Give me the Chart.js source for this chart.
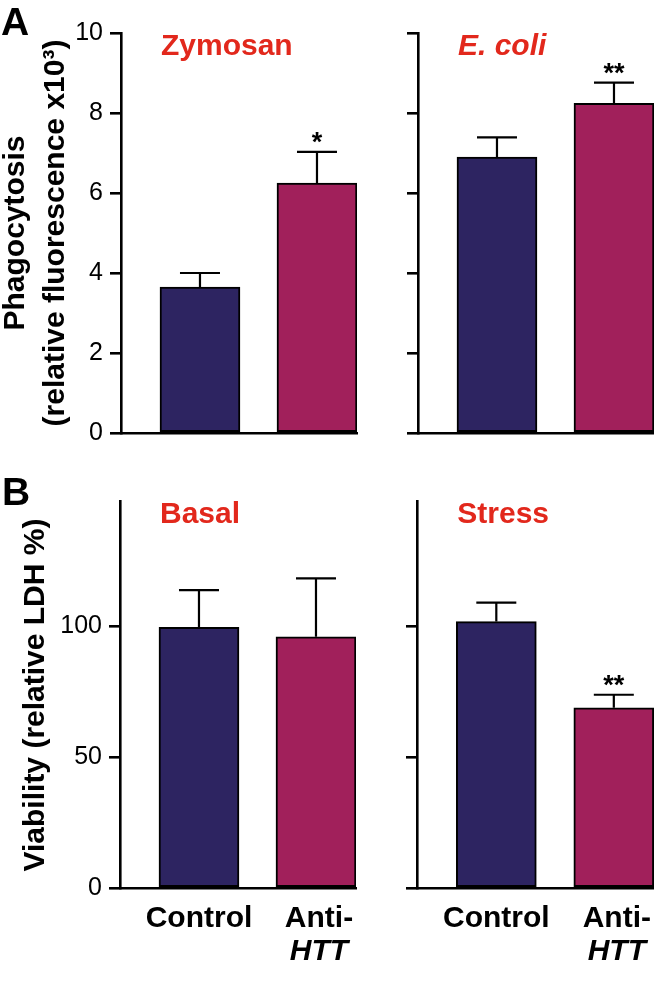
<!DOCTYPE html>
<html>
<head>
<meta charset="utf-8">
<title>Phagocytosis and viability</title>
<script src="https://cdn.jsdelivr.net/npm/chart.js@4.4.1/dist/chart.umd.min.js"></script>
<style>
  body { margin: 0; background: #fff; }
  #fig { position: relative; width: 654px; height: 991px; overflow: hidden; }
  #fig canvas { position: absolute; }
</style>
</head>
<body>
<div id="fig">
  <canvas id="chartA1" width="360" height="460" style="left:0;top:0"></canvas>
  <canvas id="chartA2" width="294" height="460" style="left:360px;top:0"></canvas>
  <canvas id="chartB1" width="360" height="541" style="left:0;top:450px"></canvas>
  <canvas id="chartB2" width="294" height="541" style="left:360px;top:450px"></canvas>
</div>
<script>
// ---- data ----
const groupPos = [1, 2];
const groupLabels = ['Control', 'Anti-'];
const groupLabels2 = ['', 'HTT'];

const zymosanMean = [3.65, 6.25];
const zymosanErr = [0.35, 0.78];
const zymosanStars = ['', '*'];

const ecoliMean = [6.9, 8.24];
const ecoliErr = [0.49, 0.52];
const ecoliStars = ['', '**'];

const basalMean = [99.7, 96.1];
const basalErr = [14.2, 22.3];
const basalStars = ['', ''];

const stressMean = [101.9, 68.9];
const stressErr = [7.2, 5.0];
const stressStars = ['', '**'];

const phagoTicks = [0, 2, 4, 6, 8, 10];
const viabTicks = [0, 50, 100];

// ---- styling ----
const FONT = '"Liberation Sans", Arial, Helvetica, sans-serif';
const NAVY = '#2d2461';
const MAGENTA = '#a1205b';
const RED = '#e2281c';

// error bars, stars, panel titles, x labels and free text
const decorPlugin = {
    id: 'decor',
    afterDatasetsDraw(chart, args, opts) {
        let ctx = chart.ctx;
        let meta = chart.getDatasetMeta(0);
        let yScale = chart.scales.y;
        let area = chart.chartArea;
        ctx.save();

        meta.data.forEach((bar, i) => {
            let top = yScale.getPixelForValue(opts.mean[i] + opts.err[i]);
            ctx.strokeStyle = '#000';
            ctx.lineWidth = 2.2;
            ctx.beginPath();
            ctx.moveTo(bar.x, bar.y);
            ctx.lineTo(bar.x, top);
            ctx.moveTo(bar.x - 20, top);
            ctx.lineTo(bar.x + 20, top);
            ctx.stroke();
            if (opts.stars[i]) {
                ctx.fillStyle = '#000';
                ctx.font = 'bold 27px ' + FONT;
                ctx.textAlign = 'center';
                ctx.textBaseline = 'alphabetic';
                ctx.fillText(opts.stars[i], bar.x, top - 1);
            }
        });

        // panel title, left edge lined up with the first bar
        let first = meta.data[0];
        ctx.fillStyle = RED;
        ctx.font = (opts.italic ? 'italic ' : '') + 'bold 30px ' + FONT;
        ctx.textAlign = 'left';
        ctx.textBaseline = 'alphabetic';
        ctx.fillText(opts.title, first.x - first.width / 2 + 1, area.top + 22);

        // category labels under the bars (second line italic)
        if (opts.xLabels) {
            ctx.fillStyle = '#000';
            ctx.textAlign = 'center';
            meta.data.forEach((bar, i) => {
                ctx.font = 'bold 30px ' + FONT;
                ctx.fillText(groupLabels[i], bar.x + (i ? 3 : 0), area.bottom + 39);
                if (groupLabels2[i]) {
                    ctx.font = 'italic bold 30px ' + FONT;
                    ctx.fillText(groupLabels2[i], bar.x + 3, area.bottom + 72);
                }
            });
        }

        // axis titles and panel letters
        (opts.texts || []).forEach(t => {
            ctx.save();
            ctx.translate(t.x, t.y);
            if (t.rotate) ctx.rotate(-Math.PI / 2);
            ctx.fillStyle = '#000';
            ctx.font = t.font;
            ctx.textAlign = t.align || 'center';
            ctx.textBaseline = t.baseline || 'middle';
            ctx.fillText(t.text, 0, 0);
            ctx.restore();
        });

        ctx.restore();
    }
};

function makePanel(id, p) {
    return new Chart(document.getElementById(id), {
        type: 'bar',
        data: {
            datasets: [{
                data: groupPos.map((x, i) => ({ x: x, y: p.mean[i] })),
                backgroundColor: [NAVY, MAGENTA],
                borderColor: '#000',
                borderWidth: 2,
                borderSkipped: false,
                barThickness: 80
            }]
        },
        options: {
            responsive: false,
            animation: false,
            layout: { padding: { top: p.padTop, right: p.padRight, bottom: p.padBottom, left: 0 } },
            plugins: {
                legend: { display: false },
                tooltip: { enabled: false },
                decor: {
                    mean: p.mean, err: p.err, stars: p.stars,
                    title: p.title, italic: p.italic,
                    xLabels: p.xLabels, texts: p.texts
                }
            },
            scales: {
                x: {
                    type: 'linear',
                    min: 0.325,
                    max: 2.342,
                    offset: false,
                    grid: { display: false },
                    ticks: { display: false },
                    border: { color: '#000', width: 2.6 },
                    afterFit: s => { s.height = 0; }
                },
                y: {
                    min: 0,
                    max: p.max,
                    afterBuildTicks: s => { s.ticks = p.ticks.map(v => ({ value: v })); },
                    ticks: {
                        display: p.showLabels,
                        color: '#000',
                        font: { family: FONT, size: 25 },
                        padding: 7
                    },
                    grid: {
                        drawOnChartArea: false,
                        color: '#000',
                        lineWidth: 2.6,
                        tickLength: 11
                    },
                    border: { color: '#000', width: 2.6 },
                    afterFit: s => { s.width = p.axisLeft; }
                }
            }
        },
        plugins: [decorPlugin]
    });
}

makePanel('chartA1', {
    mean: zymosanMean, err: zymosanErr, stars: zymosanStars,
    title: 'Zymosan', italic: false, max: 10, ticks: phagoTicks, showLabels: true,
    axisLeft: 121, padTop: 33, padRight: 3, padBottom: 27, xLabels: false,
    texts: [
        { text: 'A', x: 1, y: 35, font: 'bold 39px ' + FONT, align: 'left', baseline: 'alphabetic' },
        { text: 'Phagocytosis', x: 16, y: 233, rotate: true, font: 'bold 30px ' + FONT },
        { text: '(relative fluorescence x10\u00B3)', x: 56, y: 233, rotate: true, font: 'bold 30px ' + FONT }
    ]
});

makePanel('chartA2', {
    mean: ecoliMean, err: ecoliErr, stars: ecoliStars,
    title: 'E. coli', italic: true, max: 10, ticks: phagoTicks, showLabels: false,
    axisLeft: 58, padTop: 33, padRight: 0, padBottom: 27, xLabels: false, texts: []
});

makePanel('chartB1', {
    mean: basalMean, err: basalErr, stars: basalStars,
    title: 'Basal', italic: false, max: 148, ticks: viabTicks, showLabels: true,
    axisLeft: 120, padTop: 51, padRight: 4, padBottom: 103, xLabels: true,
    texts: [
        { text: 'B', x: 2, y: 55, font: 'bold 39px ' + FONT, align: 'left', baseline: 'alphabetic' },
        { text: 'Viability (relative LDH %)', x: 36, y: 245, rotate: true, font: 'bold 30px ' + FONT }
    ]
});

makePanel('chartB2', {
    mean: stressMean, err: stressErr, stars: stressStars,
    title: 'Stress', italic: false, max: 148, ticks: viabTicks, showLabels: false,
    axisLeft: 57, padTop: 51, padRight: 0, padBottom: 103, xLabels: true, texts: []
});
</script>
</body>
</html>
